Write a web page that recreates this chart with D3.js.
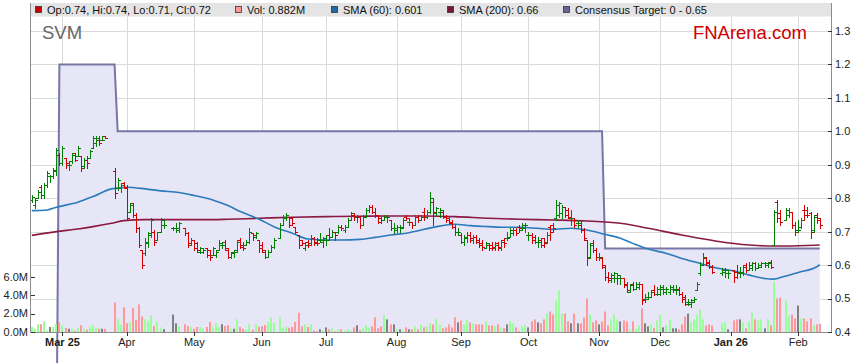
<!DOCTYPE html>
<html>
<head>
<meta charset="utf-8">
<script src="https://cdn.jsdelivr.net/npm/d3@7"></script>
<style>
  body { margin: 0; background: #fff; }
  svg { display: block; font-family: "Liberation Sans", Arial, sans-serif; }
</style>
</head>
<body>
<svg id="chart" width="859" height="363"></svg>
<script>
// one slot per weekday starting Mon 17 Feb 2025, null = no trading (holiday / halt)
const opens = [
  .795,.78,.80,.835,.81,.84,.865,.865,.88,.93,
  .905,.92,.90,.91,.935,.925,.925,.895,.915,.92,
  .95,.965,.975,.975,.985,null,null,.88,.83,.83,
  .845,.83,.76,.785,.75,.71,.645,.635,.665,.69,
  .70,.675,.70,.72,null,null,.71,.71,.705,null,
  .71,.695,.66,.675,.665,.64,.64,.65,.645,.63,
  .63,.645,.66,.67,.645,.625,.64,.645,.675,.66,
  .66,.67,.695,.685,.675,.66,.64,.625,.64,.655,
  null,.68,.72,.74,.745,.74,.715,.69,.675,.65,
  .67,.665,.68,.67,.675,.67,.675,.69,.685,.70,
  .70,.715,.705,.715,.735,.75,.745,.745,.72,.745,
  .765,.775,.76,.75,.74,.735,.745,.735,.71,.705,
  .715,.71,.745,.73,.73,.72,.745,.735,.76,.745,
  .76,.79,.755,.76,.76,.745,.74,.725,.715,.70,
  .69,.67,.68,.69,.675,.685,.675,.665,.65,.66,
  .66,.65,.665,.65,.675,.68,.685,.695,.705,.715,
  .705,.71,.69,.69,.685,.67,.675,.68,.67,.715,
  .72,.74,.75,.755,.775,.765,.74,.735,.725,.72,
  .705,.675,.625,.665,.645,.625,.62,.595,.565,.555,
  .56,.56,.56,.56,.545,.52,.545,.53,.535,.545,
  .50,.505,.505,.525,.515,.515,.53,.52,.52,.53,
  .525,.53,.515,.505,.49,.485,.49,.525,.575,.60,
  .62,.61,.595,null,null,.575,.58,.575,null,.585,
  .58,.58,.575,.60,.585,.59,.605,.59,.595,.605,
  .60,.61,.66,.79,.755,null,.735,.75,.76,.72,
  .705,.715,.765,.765,.755,.705,.75,.74
];
const highs = [
  .81,.80,.825,.84,.845,.88,.87,.89,.95,.935,
  .955,.92,.91,.935,.935,.955,.925,.92,.925,.945,
  .985,.985,.985,.985,.985,null,null,.89,.86,.845,
  .85,.84,.785,.785,.755,.715,.645,.68,.70,.74,
  .705,.70,.74,.735,null,null,.715,.725,.73,null,
  .71,.70,.68,.675,.67,.655,.65,.65,.645,.655,
  .645,.675,.67,.675,.65,.64,.645,.675,.68,.67,
  .675,.71,.695,.70,.675,.67,.645,.645,.66,.68,
  null,.725,.75,.755,.745,.745,.715,.69,.675,.67,
  .675,.69,.685,.68,.695,.685,.69,.71,.705,.70,
  .72,.72,.72,.74,.76,.755,.75,.745,.75,.77,
  .78,.78,.77,.75,.745,.75,.75,.735,.725,.72,
  .72,.74,.75,.74,.73,.75,.75,.75,.77,.765,
  .82,.80,.775,.77,.765,.75,.745,.735,.72,.71,
  .695,.69,.70,.70,.69,.69,.68,.675,.67,.665,
  .67,.67,.67,.675,.68,.70,.71,.71,.71,.72,
  .725,.725,.70,.695,.69,.685,.68,.68,.70,.72,
  .725,.795,.79,.78,.775,.77,.765,.74,.735,.735,
  .71,.675,.665,.675,.65,.635,.625,.60,.58,.575,
  .58,.575,.57,.56,.55,.545,.55,.55,.55,.545,
  .515,.52,.525,.54,.535,.54,.54,.535,.54,.54,
  .54,.535,.52,.51,.50,.50,.505,.55,.61,.635,
  .625,.615,.60,null,null,.59,.59,.585,null,.585,
  .60,.595,.60,.605,.61,.61,.61,.605,.61,.61,
  .61,.615,.765,.795,.765,null,.77,.77,.76,.73,
  .735,.74,.78,.775,.76,.75,.755,.74
];
const lows = [
  .79,.77,.80,.80,.80,.835,.85,.86,.87,.90,
  .90,.89,.885,.905,.91,.925,.88,.89,.89,.92,
  .95,.955,.96,.975,.98,null,null,.80,.825,.82,
  .83,.735,.76,.745,.70,.655,.59,.63,.655,.685,
  .66,.675,.70,.71,null,null,.705,.70,.70,null,
  .69,.655,.66,.645,.64,.635,.635,.625,.615,.63,
  .625,.645,.65,.645,.62,.62,.625,.64,.65,.645,
  .66,.665,.675,.68,.64,.64,.62,.625,.64,.65,
  null,.68,.72,.735,.715,.72,.695,.65,.66,.645,
  .655,.66,.66,.66,.67,.655,.66,.675,.685,.675,
  .695,.705,.70,.715,.735,.735,.73,.71,.72,.745,
  .76,.755,.745,.725,.725,.735,.73,.705,.695,.70,
  .70,.71,.735,.72,.71,.72,.73,.735,.735,.74,
  .755,.72,.75,.745,.74,.73,.725,.71,.69,.69,
  .665,.66,.67,.67,.665,.665,.655,.645,.65,.645,
  .645,.645,.645,.645,.655,.675,.685,.69,.69,.70,
  .705,.70,.675,.665,.665,.655,.655,.655,.665,.675,
  .70,.735,.745,.74,.745,.74,.72,.715,.715,.70,
  .675,.60,.62,.64,.615,.615,.59,.555,.55,.55,
  .55,.545,.545,.535,.52,.52,.525,.53,.53,.485,
  .49,.50,.505,.51,.51,.51,.515,.515,.515,.52,
  .515,.51,.49,.48,.48,.475,.49,.525,.57,.60,
  .60,.59,.575,null,null,.57,.565,.56,null,.55,
  .56,.565,.57,.58,.585,.585,.585,.59,.595,.595,
  .595,.59,.66,.73,.72,null,.735,.745,.71,.69,
  .70,.71,.735,.745,.68,.70,.725,.71
];
const closes = [
  .805,.795,.82,.81,.84,.875,.865,.885,.945,.905,
  .95,.905,.90,.93,.915,.95,.89,.915,.905,.94,
  .98,.98,.965,.975,.98,null,null,.815,.855,.84,
  .835,.74,.78,.75,.71,.66,.60,.67,.695,.735,
  .67,.70,.735,.72,null,null,.71,.71,.725,null,
  .695,.665,.675,.65,.645,.65,.645,.63,.625,.65,
  .64,.665,.66,.65,.625,.635,.64,.67,.655,.65,
  .67,.70,.69,.695,.65,.645,.625,.64,.655,.675,
  null,.72,.745,.75,.72,.725,.70,.66,.665,.66,
  .66,.68,.665,.665,.675,.68,.675,.685,.70,.69,
  .715,.71,.715,.735,.755,.745,.745,.72,.745,.765,
  .775,.76,.75,.73,.735,.745,.745,.71,.71,.715,
  .715,.735,.74,.73,.72,.745,.735,.745,.745,.76,
  .80,.76,.77,.765,.745,.735,.73,.715,.70,.70,
  .67,.685,.69,.68,.685,.67,.66,.655,.665,.65,
  .655,.66,.655,.67,.665,.68,.705,.705,.695,.71,
  .72,.72,.69,.675,.67,.67,.66,.665,.69,.70,
  .71,.78,.785,.775,.75,.745,.74,.72,.725,.705,
  .68,.62,.66,.645,.625,.625,.60,.565,.56,.57,
  .575,.57,.56,.54,.525,.54,.53,.545,.545,.495,
  .50,.505,.52,.515,.53,.535,.53,.53,.535,.53,
  .525,.515,.50,.485,.49,.495,.50,.545,.60,.625,
  .605,.595,.58,null,null,.585,.585,.575,null,.565,
  .575,.58,.595,.585,.60,.605,.59,.60,.605,.605,
  .605,.595,.76,.74,.73,null,.765,.76,.72,.70,
  .705,.735,.75,.75,.70,.745,.735,.72
];
// volume in millions
const volumes = [
  .55,.35,.85,.85,1.15,.15,.55,.55,.85,1.05,
  .75,.45,.35,.35,.15,.45,.75,.35,.25,.55,
  .75,.45,.35,.35,.35,null,null,3.2,1.45,.8,
  2.7,.95,1.1,2.6,1.3,3.0,1.7,1.4,1.2,1.8,
  .65,1.15,.5,.3,null,null,1.9,.95,.65,null,
  .85,.65,.55,.35,.55,.55,.35,.55,1.1,.55,
  .95,.55,.85,.65,.75,.35,.35,1.4,.55,.35,
  .25,.85,.25,.85,.55,.65,.75,1.1,1.6,1.0,
  null,1.65,.45,.55,.45,.55,1.1,2.1,.61,.83,
  .54,.83,.18,.07,.29,.18,.5,.29,.4,.05,
  .29,.29,.18,.29,.11,.5,.72,.18,.4,.72,
  .5,.61,1.59,.4,.61,1.8,1.37,.83,.83,.29,
  .29,.18,.5,.29,.29,.61,.29,.83,.5,.61,
  .94,.83,1.48,.83,.4,.5,.83,.5,1.59,1.05,
  1.26,.83,1.37,1.05,.94,.83,.83,.83,1.15,.72,
  .72,.61,.83,.5,.4,.83,1.15,.94,.5,.11,
  .61,.72,.5,1.15,1.37,1.05,.94,1.37,2.0,2.23,
  1.9,3.42,4.5,2.0,2.0,1.15,.94,2.0,.94,.94,
  1.59,3.64,1.9,1.05,1.26,.83,1.15,2.23,.72,1.37,
  1.9,1.37,1.15,1.26,1.15,.29,1.15,.29,.72,2.56,
  .94,.61,.83,.4,1.26,1.9,.5,.72,1.37,.4,
  .4,.29,.83,1.7,2.0,1.05,1.37,1.9,2.45,1.37,
  .72,.83,.72,null,null,.94,1.05,.29,null,1.26,
  1.37,1.37,1.05,.4,1.15,2.1,1.37,1.26,1.37,.4,
  1.37,.72,5.48,3.64,3.75,null,3.42,1.8,1.9,1.48,
  2.88,1.48,1.48,1.15,1.48,.72,.83,.882
];

// moving averages at these bar slots
const sma60Idx = [0,5,8,15,20,26,31,37,42,48,53,59,64,68,74,79,85,90,96,101,107,112,117,123,128,132,138,143,149,154,159,165,170,176,181,187,192,196,201,207,212,218,223,229,234,239,242,245,250,256,257];
const sma60 = [.763,.765,.773,.788,.805,.828,.833,.828,.822,.817,.808,.795,.778,.76,.738,.715,.695,.678,.675,.675,.677,.683,.69,.697,.707,.715,.722,.718,.715,.713,.713,.71,.707,.71,.705,.692,.68,.665,.648,.635,.62,.605,.592,.582,.57,.56,.558,.565,.578,.595,.601];
const sma200Idx = [0,8,15,20,26,30,37,48,59,64,74,85,96,107,117,128,138,149,159,170,181,192,201,212,223,234,242,250,257];
const sma200 = [.689,.70,.708,.715,.725,.733,.736,.736,.736,.737,.74,.743,.745,.746,.747,.747,.745,.74,.737,.735,.732,.725,.71,.69,.672,.66,.657,.658,.66];

// consensus target (steps)
const targetIdx = [0, 8, 9, 27, 28, 186, 187, 257];
const targetVal = [0, 0, 1.2, 1.2, 1.0, 1.0, 0.65, 0.65];

const monthIdx = [10, 31, 53, 75, 96, 119, 140, 162, 185, 205, 228, 250];
const monthLabels = ['Mar 25', 'Apr', 'May', 'Jun', 'Jul', 'Aug', 'Sep', 'Oct', 'Nov', 'Dec', 'Jan 26', 'Feb'];
const priceTicks = [0.4, 0.5, 0.6, 0.7, 0.8, 0.9, 1.0, 1.1, 1.2, 1.3];
const volTicks = [0, 2, 4, 6];

const svg = d3.select('#chart');
const L = 31, R = 832, T = 16.5, B = 332;

const x = d3.scaleLinear().domain([-0.26, 261]).range([L, R]);
const y = d3.scaleLinear().domain([0.4, 1.3]).range([B, 31]);
const yv = d3.scaleLinear().domain([0, 6]).range([B, 276.8]);
const px = v => Math.round(v) + 0.5;

// legend strip
svg.append('rect').attr('x', 30).attr('y', 3).attr('width', R - 30).attr('height', T - 3).attr('fill', '#e4e4e4');

// grid
const grid = svg.append('g').attr('stroke', '#dadada').attr('stroke-width', 1);
priceTicks.slice(1).forEach(t => {
  grid.append('line').attr('x1', L).attr('x2', R).attr('y1', px(y(t))).attr('y2', px(y(t)));
});
monthIdx.forEach(i => {
  grid.append('line').attr('x1', px(x(i))).attr('x2', px(x(i))).attr('y1', T).attr('y2', B);
});

// consensus target
const target = targetIdx.map((d, k) => [d, targetVal[k]]);
svg.append('clipPath').attr('id', 'plotclip')
  .append('rect').attr('x', L).attr('y', T).attr('width', R - L).attr('height', B - T);
svg.append('path')
  .datum(target)
  .attr('clip-path', 'url(#plotclip)')
  .attr('fill', '#e6e6f6')
  .attr('d', d3.area().x(d => x(d[0])).y0(B).y1(d => y(d[1])));
svg.append('path')
  .datum(target)
  .attr('fill', 'none')
  .attr('stroke', '#7676a8')
  .attr('stroke-width', 2)
  .attr('d', d3.line().x(d => x(d[0])).y(d => y(d[1])));

// bars
const bars = d3.range(closes.length).filter(i => closes[i] != null).map(i => ({
  i, o: opens[i], h: highs[i], l: lows[i], c: closes[i], v: volumes[i]
}));

svg.append('g').selectAll('rect').data(bars).join('rect')
  .attr('x', d => Math.round(x(d.i)) - 1)
  .attr('width', 2)
  .attr('y', d => yv(d.v))
  .attr('height', d => B - yv(d.v))
  .attr('fill', d => d.c > d.o ? '#99ff99' : d.c < d.o ? '#ff9999' : '#808080');

// moving averages
const smaLine = d3.line().x(d => x(d[0])).y(d => y(d[1])).curve(d3.curveMonotoneX);
svg.append('path').datum(sma200Idx.map((d, k) => [d, sma200[k]]))
  .attr('fill', 'none').attr('stroke', '#8a1a42').attr('stroke-width', 1.6).attr('d', smaLine);
svg.append('path').datum(sma60Idx.map((d, k) => [d, sma60[k]]))
  .attr('fill', 'none').attr('stroke', '#2b7bba').attr('stroke-width', 1.6).attr('d', smaLine);

// OHLC
svg.append('g').selectAll('path').data(bars).join('path')
  .attr('fill', 'none')
  .attr('stroke-width', 1)
  .attr('stroke', d => d.c >= d.o ? '#008000' : '#d40000')
  .attr('d', d => {
    const cx = px(x(d.i));
    const yo = px(y(d.o)), yc = px(y(d.c));
    return `M${cx},${Math.round(y(d.h))}V${Math.round(y(d.l)) + 1}` +
      `M${cx - 2.5},${yo}H${cx}M${cx},${yc}H${cx + 2.5}`;
  });

// frame
const frame = svg.append('g').attr('stroke', '#8c8c8c').attr('stroke-width', 1);
frame.append('line').attr('x1', L - 0.5).attr('x2', L - 0.5).attr('y1', 3).attr('y2', B + 0.5);
frame.append('line').attr('x1', R - 0.5).attr('x2', R - 0.5).attr('y1', 3).attr('y2', B + 0.5);
frame.append('line').attr('x1', L - 0.5).attr('x2', R - 0.5).attr('y1', B + 0.5).attr('y2', B + 0.5);

// right price axis
const ra = svg.append('g').attr('font-size', 11).attr('fill', '#222');
priceTicks.forEach(t => {
  ra.append('line').attr('x1', R - 4).attr('x2', R).attr('y1', px(y(t))).attr('y2', px(y(t))).attr('stroke', '#333');
  ra.append('text').attr('x', R + 3).attr('y', y(t)).attr('dy', '0.35em').text(d3.format('.1f')(t));
});

// left volume axis
const la = svg.append('g').attr('font-size', 11).attr('fill', '#222');
volTicks.forEach(t => {
  la.append('line').attr('x1', L).attr('x2', L + 4).attr('y1', px(yv(t))).attr('y2', px(yv(t))).attr('stroke', '#333');
  la.append('text').attr('x', L - 3).attr('y', yv(t)).attr('dy', '0.35em').attr('text-anchor', 'end').text(d3.format('.1f')(t) + 'M');
});

// bottom time axis
const ba = svg.append('g').attr('font-size', 11).attr('fill', '#222');
monthIdx.forEach((i, k) => {
  ba.append('line').attr('x1', px(x(i))).attr('x2', px(x(i))).attr('y1', B).attr('y2', B + 4).attr('stroke', '#333');
  ba.append('text').attr('x', x(i)).attr('y', B + 14).attr('text-anchor', 'middle')
    .attr('font-weight', monthLabels[k].includes(' ') ? 'bold' : 'normal')
    .text(monthLabels[k]);
});

// titles
svg.append('text').attr('x', 42).attr('y', 39).attr('font-size', 18.5).attr('fill', '#666').text('SVM');
svg.append('text').attr('x', 807).attr('y', 39).attr('text-anchor', 'end').attr('font-size', 18.5).attr('fill', '#cc0000').text('FNArena.com');

// legend
const last = bars[bars.length - 1];
const legend = [
  { x: 35, color: '#cc0000', text: `Op:${last.o}, Hi:${last.h}, Lo:${last.l}, Cl:${last.c}` },
  { x: 235, color: '#ff9999', text: `Vol: ${last.v}M` },
  { x: 331, color: '#1f6aa8', text: `SMA (60): ${sma60[sma60.length - 1]}` },
  { x: 447, color: '#7a1434', text: `SMA (200): ${sma200[sma200.length - 1]}` },
  { x: 563, color: '#666699', text: `Consensus Target: ${d3.min(targetVal)} - ${targetVal[targetVal.length - 1]}` }
];
const lg = svg.append('g').attr('font-size', 11).attr('fill', '#111');
legend.forEach(d => {
  lg.append('rect').attr('x', d.x + 0.5).attr('y', 6.5).attr('width', 6).attr('height', 6)
    .attr('fill', d.color).attr('stroke', '#333').attr('stroke-width', 0.8);
  lg.append('text').attr('x', d.x + 12).attr('y', 13.5).text(d.text);
});
</script>
</body>
</html>
